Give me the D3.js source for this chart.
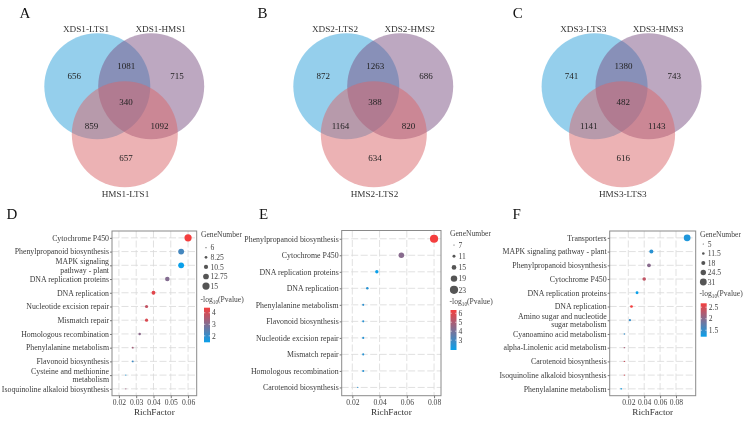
<!DOCTYPE html>
<html><head><meta charset="utf-8">
<script src="https://cdn.jsdelivr.net/npm/d3@7"></script>
<style>body{margin:0;background:#fff} svg{opacity:0.999;will-change:transform} text{font-family:"Liberation Serif","Times New Roman",serif}</style>
</head><body><svg id="c" width="747" height="422"></svg>
<script>
// ---------- Venn data ----------
const vennLetters = ["A", "B", "C"];
const vennSetsA = ["XDS1-LTS1", "XDS1-HMS1", "HMS1-LTS1"];
const vennSetsB = ["XDS2-LTS2", "XDS2-HMS2", "HMS2-LTS2"];
const vennSetsC = ["XDS3-LTS3", "XDS3-HMS3", "HMS3-LTS3"];
// order: only set1, set1∩set2, only set2, all three, set1∩set3, set2∩set3, only set3
const vennCountsA = [656, 1081, 715, 340, 859, 1092, 657];
const vennCountsB = [872, 1263, 686, 388, 1164, 820, 634];
const vennCountsC = [741, 1380, 743, 482, 1141, 1143, 616];

// ---------- KEGG dot plot data ----------
const pathwaysD = ["Cytochrome P450", "Phenylpropanoid biosynthesis", "MAPK signaling\npathway - plant", "DNA replication proteins", "DNA replication", "Nucleotide excision repair", "Mismatch repair", "Homologous recombination", "Phenylalanine metabolism", "Flavonoid biosynthesis", "Cysteine and methionine\nmetabolism", "Isoquinoline alkaloid biosynthesis"];
const richD = [0.060, 0.056, 0.056, 0.048, 0.040, 0.036, 0.036, 0.032, 0.028, 0.028, 0.024, 0.024];
const genesD = [15, 13, 13, 11, 10, 9, 9, 8, 7, 7, 6, 6];
const logpD = [4.44, 2.2, 1.44, 3.0, 4.2, 3.8, 4.1, 3.1, 3.4, 2.1, 1.7, 3.3];
const richTicksD = [0.02, 0.03, 0.04, 0.05, 0.06];
const sizeTicksD = [6, 8.25, 10.5, 12.75, 15];
const colorTicksD = [2, 3, 4];

const pathwaysE = ["Phenylpropanoid biosynthesis", "Cytochrome P450", "DNA replication proteins", "DNA replication", "Phenylalanine metabolism", "Flavonoid biosynthesis", "Nucleotide excision repair", "Mismatch repair", "Homologous recombination", "Carotenoid biosynthesis"];
const richE = [0.080, 0.056, 0.038, 0.031, 0.028, 0.028, 0.028, 0.028, 0.028, 0.024];
const genesE = [23, 17, 12, 10, 9, 9, 9, 9, 9, 7];
const logpE = [6.37, 4.3, 1.9, 2.5, 2.6, 2.5, 2.5, 2.5, 2.5, 2.6];
const richTicksE = [0.02, 0.04, 0.06, 0.08];
const sizeTicksE = [7, 11, 15, 19, 23];
const colorTicksE = [3, 4, 5, 6];

const pathwaysF = ["Transporters", "MAPK signaling pathway - plant", "Phenylpropanoid biosynthesis", "Cytochrome P450", "DNA replication proteins", "DNA replication", "Amino sugar and nucleotide\nsugar metabolism", "Cyanoamino acid metabolism", "alpha-Linolenic acid metabolism", "Carotenoid biosynthesis", "Isoquinoline alkaloid biosynthesis", "Phenylalanine metabolism"];
const richF = [0.094, 0.049, 0.046, 0.040, 0.031, 0.024, 0.022, 0.015, 0.015, 0.015, 0.015, 0.011];
const genesF = [31, 18, 17, 16, 13, 12, 10, 6, 6, 6, 6, 7];
const logpF = [1.35, 1.42, 2.0, 2.35, 1.22, 2.67, 1.5, 1.48, 2.2, 2.4, 2.45, 1.3];
const richTicksF = [0.02, 0.04, 0.06, 0.08];
const sizeTicksF = [5, 11.5, 18, 24.5, 31];
const colorTicksF = [1.5, 2, 2.5];

const svg = d3.select("#c");
svg.append("rect").attr("width", 747).attr("height", 422).attr("fill", "#fff");

// ---------- Venn drawing ----------
function drawVenn(ox, letter, sets, counts) {
  const g = svg.append("g").attr("transform", `translate(${ox},0)`);
  const circles = [
    {cx: 97.3, cy: 86.3, fill: "#2c9fda"},
    {cx: 151.2, cy: 86.3, fill: "#7b5283"},
    {cx: 124.8, cy: 134.2, fill: "#d9666a"}
  ];
  g.selectAll("circle").data(circles).join("circle")
    .attr("cx", d => d.cx).attr("cy", d => d.cy).attr("r", 53)
    .attr("fill", d => d.fill).attr("fill-opacity", 0.5);
  const pos = [[74.3, 76], [126.3, 66], [177, 76], [126, 101.7], [91.5, 125.5], [159.5, 125.5], [126, 157.5]];
  g.selectAll("text.n").data(counts).join("text").attr("class", "n")
    .attr("x", (d, i) => pos[i][0]).attr("y", (d, i) => pos[i][1] + 3.2)
    .attr("text-anchor", "middle").attr("font-size", 9).attr("fill", "#222").text(d => d);
  const lp = [[86, 31.5], [160.7, 31.5], [125.5, 196.5]];
  g.selectAll("text.l").data(sets).join("text").attr("class", "l")
    .attr("x", (d, i) => lp[i][0]).attr("y", (d, i) => lp[i][1])
    .attr("text-anchor", "middle").attr("font-size", 9.2).attr("fill", "#333").text(d => d);
  g.append("text").attr("x", letter === "A" ? 19.5 : (letter === "B" ? 8.5 : 15.5)).attr("y", 17.5)
    .attr("font-size", 15).attr("fill", "#111").text(letter);
}
drawVenn(0, vennLetters[0], vennSetsA, vennCountsA);
drawVenn(249, vennLetters[1], vennSetsB, vennCountsB);
drawVenn(497.3, vennLetters[2], vennSetsC, vennCountsC);

// ---------- dot plot drawing ----------
const lowCol = "#0aa0ea", highCol = "#f43e3e";
function drawDot(cfg, paths, rich, genes, logp, xTicks, sTicks, cTicks) {
  const g = svg.append("g");
  const x = d3.scaleLinear().domain(cfg.xDomain).range([cfg.left, cfg.right]);
  const y = d3.scalePoint().domain(paths).range([cfg.top, cfg.bottom]).padding(0.5);
  const sMin = sTicks[0], sMax = sTicks[sTicks.length - 1];
  const r = d3.scaleLinear().domain([sMin, sMax]).range(cfg.rRange);
  const col = d3.scaleLinear().domain(cfg.cDomain).range([lowCol, highCol]).interpolate(d3.interpolateRgb).clamp(true);

  // grid
  g.selectAll("line.hg").data(paths).join("line").attr("class", "hg")
    .attr("x1", cfg.left).attr("x2", cfg.right).attr("y1", d => y(d)).attr("y2", d => y(d))
    .attr("stroke", "#d9d9d9").attr("stroke-width", 0.8).attr("stroke-dasharray", "7,2.5");
  g.selectAll("line.vg").data(xTicks).join("line").attr("class", "vg")
    .attr("y1", cfg.top).attr("y2", cfg.bottom).attr("x1", d => x(d)).attr("x2", d => x(d))
    .attr("stroke", "#d9d9d9").attr("stroke-width", 0.8).attr("stroke-dasharray", "7,2.5");
  // box
  g.append("rect").attr("x", cfg.left).attr("y", cfg.top)
    .attr("width", cfg.right - cfg.left).attr("height", cfg.bottom - cfg.top)
    .attr("fill", "none").attr("stroke", "#8a8a8a").attr("stroke-width", 1);

  // axes
  const xa = g.append("g").attr("transform", `translate(0,${cfg.bottom})`)
    .call(d3.axisBottom(x).tickValues(xTicks).tickFormat(d3.format(".2f")).tickSize(2.5).tickPadding(1.5));
  xa.select(".domain").remove();
  xa.selectAll("line").attr("stroke", "#777");
  xa.selectAll("text").attr("font-size", 7.6).attr("fill", "#444").attr("font-family", "Liberation Serif");
  const ya = g.append("g").attr("transform", `translate(${cfg.left},0)`)
    .call(d3.axisLeft(y).tickSize(2).tickFormat(""));
  ya.select(".domain").remove();
  ya.selectAll("line").attr("stroke", "#777");
  // y labels (multi-line)
  paths.forEach(p => {
    const lines = p.split("\n");
    const t = g.append("text").attr("text-anchor", "end").attr("font-size", 7.85)
      .attr("fill", "#3a3a3a");
    lines.forEach((ln, i) => {
      t.append("tspan").attr("x", cfg.left - 3)
        .attr("y", y(p) + 2.8 + (i - (lines.length - 1) / 2) * 8.8).text(ln);
    });
  });
  g.append("text").attr("x", (cfg.left + cfg.right) / 2 + cfg.titleDx).attr("y", 414.8)
    .attr("text-anchor", "middle").attr("font-size", 9.2).attr("fill", "#333").text("RichFactor");

  // points
  const data = paths.map((p, i) => ({p, rf: rich[i], gn: genes[i], lp: logp[i]}));
  g.selectAll("circle.pt").data(data).join("circle").attr("class", "pt")
    .attr("cx", d => x(d.rf)).attr("cy", d => y(d.p)).attr("r", d => r(d.gn))
    .attr("fill", d => col(d.lp));

  // size legend
  const L = cfg.leg;
  g.append("text").attr("x", L.x).attr("y", L.titleY + 2.7).attr("font-size", 7.6).attr("fill", "#444").text("GeneNumber");
  g.selectAll("circle.lg").data(sTicks).join("circle").attr("class", "lg")
    .attr("cx", L.cx).attr("cy", (d, i) => L.itemY + i * L.step).attr("r", d => r(d)).attr("fill", "#555");
  g.selectAll("text.lg").data(sTicks).join("text").attr("class", "lg")
    .attr("x", L.cx + 4.5).attr("y", (d, i) => L.itemY + i * L.step + 2.7)
    .attr("font-size", 7.6).attr("fill", "#444").text(d => d);
  // color legend
  const ct = g.append("text").attr("x", L.x - 0.5).attr("y", L.cTitleY + 2.7).attr("font-size", 7.6).attr("fill", "#444");
  ct.append("tspan").text("-log");
  ct.append("tspan").attr("font-size", 5.3).attr("dy", 2).text("10");
  ct.append("tspan").attr("dy", -2).text("(Pvalue)");
  const cy = d3.scaleLinear().domain(cfg.cDomain).range([L.barBottom, L.barTop]);
  const gid = "grad" + cfg.id;
  const grad = svg.append("defs").append("linearGradient").attr("id", gid)
    .attr("x1", 0).attr("x2", 0).attr("y1", 1).attr("y2", 0);
  d3.range(0, 1.0001, 0.1).forEach(t => {
    grad.append("stop").attr("offset", t).attr("stop-color", col(cfg.cDomain[0] + t * (cfg.cDomain[1] - cfg.cDomain[0])));
  });
  g.append("rect").attr("x", L.barX).attr("y", L.barTop).attr("width", 6)
    .attr("height", L.barBottom - L.barTop).attr("fill", `url(#${gid})`);
  g.selectAll("line.ct").data(cTicks).join("line").attr("class", "ct")
    .attr("x1", L.barX).attr("x2", L.barX + 1.3).attr("y1", d => cy(d)).attr("y2", d => cy(d)).attr("stroke", "#fff").attr("stroke-width", 0.6);
  g.selectAll("line.ct2").data(cTicks).join("line").attr("class", "ct2")
    .attr("x1", L.barX + 4.7).attr("x2", L.barX + 6).attr("y1", d => cy(d)).attr("y2", d => cy(d)).attr("stroke", "#fff").attr("stroke-width", 0.6);
  g.selectAll("text.ct").data(cTicks).join("text").attr("class", "ct")
    .attr("x", L.barX + 8).attr("y", d => cy(d) + 2.7).attr("font-size", 7.6).attr("fill", "#444").text(d => d);

  g.append("text").attr("x", cfg.letterX).attr("y", 218.5).attr("font-size", 15).attr("fill", "#111").text(cfg.letter);
}

drawDot({id: "D", letter: "D", letterX: 6.5, left: 112, right: 196.7, top: 231, bottom: 395.7,
  xDomain: [0.016, 0.065], cDomain: [1.44, 4.44], rRange: [0.6, 3.6], titleDx: 0,
  leg: {x: 201, titleY: 234.3, cx: 206, itemY: 247.7, step: 9.6, cTitleY: 299, barX: 204, barTop: 307.7, barBottom: 342.3}},
  pathwaysD, richD, genesD, logpD, richTicksD, sizeTicksD, colorTicksD);

drawDot({id: "E", letter: "E", letterX: 259, left: 341.7, right: 441, top: 230.5, bottom: 395.7,
  xDomain: [0.0122, 0.0851], cDomain: [1.9, 6.37], rRange: [0.6, 4.1], titleDx: 0,
  leg: {x: 450, titleY: 233.3, cx: 454, itemY: 245, step: 11.2, cTitleY: 301.7, barX: 450.5, barTop: 310, barBottom: 350}},
  pathwaysE, richE, genesE, logpE, richTicksE, sizeTicksE, colorTicksE);

drawDot({id: "F", letter: "F", letterX: 512.5, left: 609.7, right: 695.7, top: 231, bottom: 395.7,
  xDomain: [-0.0034, 0.1048], cDomain: [1.22, 2.67], rRange: [0.6, 3.4], titleDx: 0,
  leg: {x: 700, titleY: 234.3, cx: 703.3, itemY: 244, step: 9.5, cTitleY: 293.3, barX: 700.7, barTop: 303.3, barBottom: 336.7}},
  pathwaysF, richF, genesF, logpF, richTicksF, sizeTicksF, colorTicksF);
</script></body></html>
